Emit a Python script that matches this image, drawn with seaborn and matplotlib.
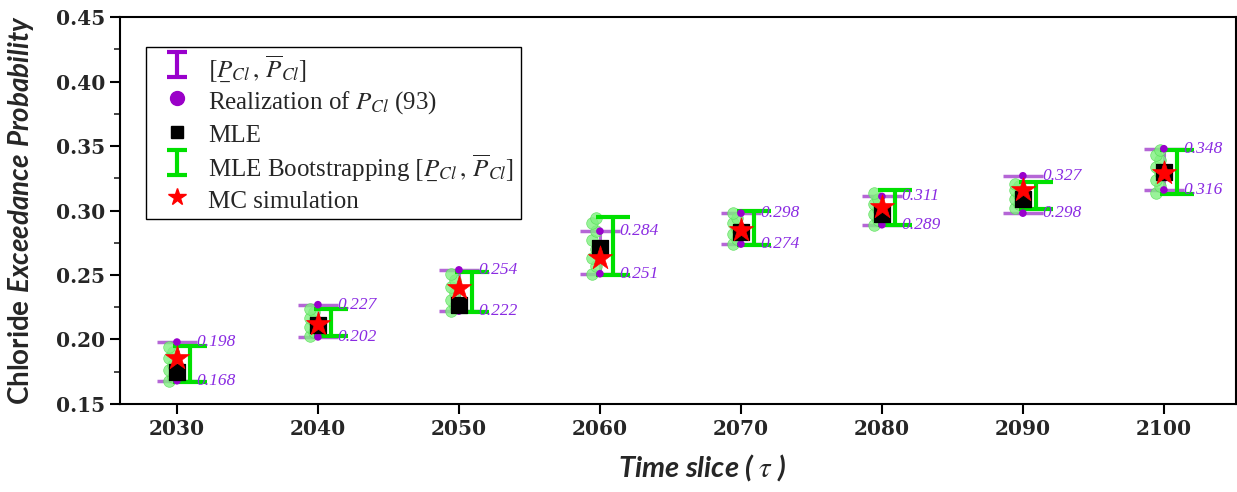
import matplotlib
matplotlib.use("Agg")
import matplotlib.pyplot as plt
import seaborn as sns
import pandas as pd
from matplotlib.ticker import MultipleLocator
from matplotlib.lines import Line2D

# Data
years = [2030, 2040, 2050, 2060, 2070, 2080, 2090, 2100]
p_low = [0.168, 0.202, 0.222, 0.251, 0.274, 0.289, 0.298, 0.316]
p_up = [0.198, 0.227, 0.254, 0.284, 0.298, 0.311, 0.327, 0.348]
boot_low = [0.167, 0.203, 0.221, 0.250, 0.273, 0.289, 0.301, 0.313]
boot_up = [0.195, 0.224, 0.252, 0.295, 0.300, 0.316, 0.322, 0.347]
mle = [0.175, 0.211, 0.227, 0.271, 0.283, 0.297, 0.309, 0.330]
mc = [0.186, 0.212, 0.240, 0.263, 0.285, 0.303, 0.316, 0.329]
yticks = [0.15, 0.20, 0.25, 0.30, 0.35, 0.40, 0.45]

# a few of the (light green) realization dots per time slice
real_vals = {
    2030: [0.168, 0.171, 0.176, 0.180, 0.186, 0.190, 0.194],
    2040: [0.203, 0.206, 0.210, 0.214, 0.217, 0.221, 0.224],
    2050: [0.222, 0.226, 0.231, 0.236, 0.241, 0.246, 0.251],
    2060: [0.251, 0.257, 0.263, 0.270, 0.277, 0.284, 0.290, 0.294],
    2070: [0.274, 0.278, 0.282, 0.286, 0.290, 0.294, 0.298],
    2080: [0.289, 0.293, 0.297, 0.301, 0.305, 0.309, 0.314],
    2090: [0.302, 0.305, 0.309, 0.312, 0.316, 0.319, 0.321],
    2100: [0.314, 0.319, 0.324, 0.329, 0.334, 0.339, 0.343, 0.347],
}

real_x, real_y = [], []
for yr, vals in real_vals.items():
    for i, v in enumerate(vals):
        real_x.append(yr - 0.55 + 0.3 * (i % 2))
        real_y.append(v)
df_real = pd.DataFrame({"year": real_x, "p": real_y})
df = pd.DataFrame({"year": years, "mle": mle, "mc": mc})
df_ends = pd.DataFrame({"year": years * 2, "p": p_low + p_up})

sns.set_style("ticks")
plt.rcParams["font.family"] = ["Liberation Serif", "DejaVu Serif"]
plt.rcParams["mathtext.fontset"] = "stix"
plt.rcParams["mathtext.rm"] = "Lato:bold"
plt.rcParams["mathtext.it"] = "Lato:bold:italic"

fig = plt.figure(figsize=(12.37, 4.92), dpi=100)
ax = fig.add_axes([0.097, 0.179, 0.902, 0.786])

purple = "#9900cc"
purple_l = "#b566d6"
green = "#00e000"
nan = float("nan")

# purple interval [P_low, P_up]
pmid = [(a + b) / 2 for a, b in zip(p_low, p_up)]
ax.errorbar(years, pmid,
            yerr=[[m - a for m, a in zip(pmid, p_low)], [b - m for m, b in zip(pmid, p_up)]],
            fmt="none", ecolor=purple_l, elinewidth=2.2, capsize=14.5, capthick=2.5, zorder=2)

# realizations (green dots)
sns.scatterplot(data=df_real, x="year", y="p", ax=ax, color="#80f080", s=70,
                alpha=0.8, edgecolor="#55dd55", linewidth=0.5, zorder=3, legend=False)

# bootstrapping interval
bmid = [(a + b) / 2 for a, b in zip(boot_low, boot_up)]
ax.errorbar([y + 0.9 for y in years], bmid,
            yerr=[[m - a for m, a in zip(bmid, boot_low)], [b - m for m, b in zip(bmid, boot_up)]],
            fmt="none", ecolor=green, elinewidth=3.0, capsize=12.5, capthick=3.0, zorder=4)

# purple dots on interval ends
sns.scatterplot(data=df_ends, x="year", y="p", ax=ax, color=purple, s=30,
                edgecolor="none", zorder=4, legend=False)

sns.scatterplot(data=df, x="year", y="mle", ax=ax, marker="s", color="black", s=130,
                edgecolor="black", zorder=5, legend=False)
sns.scatterplot(data=df, x="year", y="mc", ax=ax, marker="*", color="red", s=330,
                edgecolor="red", linewidth=0.5, zorder=6, legend=False)

# value labels
for yr, lo, hi in zip(years, p_low, p_up):
    for v in (lo, hi):
        ax.text(yr + 1.35, v, f"{v:.3f}", color="#8a2be2", fontsize=12.5,
                style="italic", va="center", ha="left", zorder=7)

# legend
interval_tex = r"$[\underset{-}{P}_{Cl}\,,\,\overline{P}_{Cl}]$"
h_int_leg = ax.errorbar([nan], [nan], yerr=[[0.01], [0.01]], fmt="none", ecolor=purple,
                        elinewidth=3, capsize=7, capthick=3)
h_boot_leg = ax.errorbar([nan], [nan], yerr=[[0.01], [0.01]], fmt="none", ecolor=green,
                         elinewidth=3, capsize=7, capthick=3)
h_dot = Line2D([], [], ls="none", marker="o", ms=10, mfc="#9a00c8", mec="#9a00c8")
h_sq = Line2D([], [], ls="none", marker="s", ms=9, mfc="black", mec="black")
h_star = Line2D([], [], ls="none", marker="*", ms=13, mfc="red", mec="red")
leg = ax.legend([h_int_leg, h_dot, h_sq, h_boot_leg, h_star],
                [interval_tex,
                 r"Realization of $P_{Cl}$ (93)",
                 "MLE",
                 "MLE Bootstrapping " + interval_tex,
                 "MC simulation"],
                loc="upper left", bbox_to_anchor=(0.0233, 0.9225), fontsize=18,
                frameon=True, fancybox=False, edgecolor="black", framealpha=1,
                labelspacing=0.2, handlelength=2.0, handleheight=1.2, handletextpad=0.25,
                borderpad=0.25, borderaxespad=0)
leg.get_frame().set_linewidth(1.0)

ax.set_xlim(2025.96, 2105.1)
ax.set_ylim(0.15, 0.45)
ax.set_xticks(years)
ax.set_yticks(yticks)
ax.yaxis.set_minor_locator(MultipleLocator(0.025))
ax.set_yticklabels([f"{v:.2f}" for v in yticks])
for lab in ax.get_xticklabels() + ax.get_yticklabels():
    lab.set_fontfamily("DejaVu Serif")
    lab.set_fontweight("bold")
    lab.set_fontsize(14.5)
ax.tick_params(axis="both", which="major", direction="out", length=7, width=1.5, color="black")
ax.tick_params(axis="y", which="minor", direction="out", length=4, width=1.2)
for sp in ax.spines.values():
    sp.set_visible(True)
    sp.set_linewidth(1.5)
    sp.set_color("black")

ax.set_xlabel(r"Time slice ( $\tau$ )", fontsize=21, fontfamily="Lato",
              fontweight="bold", style="italic")
ax.xaxis.set_label_coords(0.522, -0.125)
ax.set_ylabel(r"$\mathrm{Chloride}\ \mathit{Exceedance\ Probability}$", fontsize=20,
              math_fontfamily="custom")
ax.yaxis.set_label_coords(-0.075, 0.5)

fig.savefig("out.png", dpi=100)
